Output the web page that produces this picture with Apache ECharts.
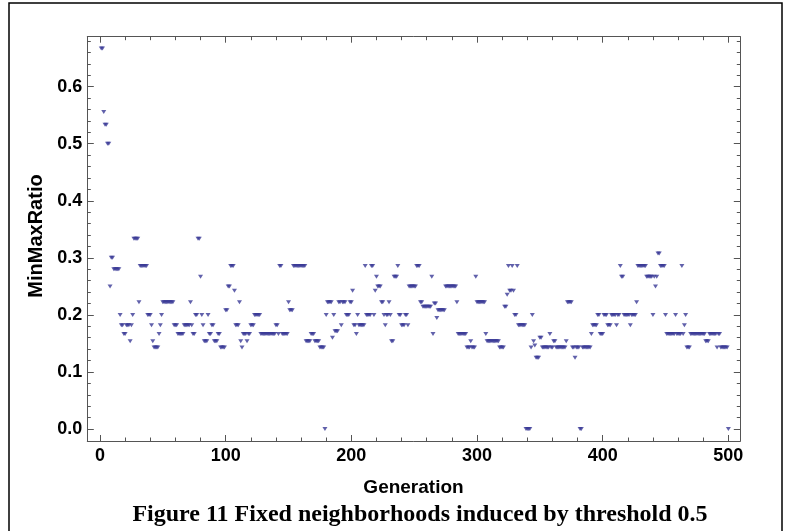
<!DOCTYPE html>
<html>
<head>
<meta charset="utf-8">
<script src="https://cdn.jsdelivr.net/npm/echarts@6/dist/echarts.min.js"></script>
<style>html,body{margin:0;padding:0;background:#fff;}#c{width:791px;height:531px;}</style>
</head>
<body>
<div id="c"></div>
<script>
// MinMaxRatio per generation (generations 1..500)
const minMaxRatio = [
  0.6667,0.6667,0.5556,0.5333,0.5333,0.5,0.5,0.25,0.3,0.3,
  0.28,0.28,0.28,0.28,0.28,0.2,0.1818,0.1818,0.1667,0.1667,
  0.1818,0.1818,0.1818,0.1538,0.1818,0.2,0.3333,0.3333,0.3333,0.3333,
  0.2222,0.2857,0.2857,0.2857,0.2857,0.2857,0.2857,0.2,0.2,0.2,
  0.1818,0.1538,0.1429,0.1429,0.1429,0.1429,0.1667,0.1818,0.2,0.2222,
  0.2222,0.2222,0.2222,0.2222,0.2222,0.2222,0.2222,0.2222,0.1818,0.1818,
  0.1818,0.1667,0.1667,0.1667,0.1667,0.1667,0.1818,0.1818,0.1818,0.1818,
  0.1818,0.2222,0.1818,0.1667,0.1667,0.2,0.2,0.3333,0.3333,0.2667,
  0.2,0.1818,0.1538,0.1538,0.1538,0.2,0.1667,0.1667,0.1818,0.1818,
  0.1538,0.1538,0.1538,0.1667,0.1667,0.1429,0.1429,0.1429,0.1429,0.2083,
  0.2083,0.25,0.25,0.2857,0.2857,0.2857,0.2424,0.1818,0.1818,0.1818,
  0.2222,0.1538,0.1429,0.1667,0.1667,0.1667,0.1538,0.1667,0.1667,0.1818,
  0.1818,0.1818,0.2,0.2,0.2,0.2,0.2,0.1667,0.1667,0.1667,
  0.1667,0.1667,0.1667,0.1667,0.1667,0.1667,0.1667,0.1667,0.1667,0.1818,
  0.1818,0.1667,0.2857,0.2857,0.1667,0.1667,0.1667,0.1667,0.1667,0.2222,
  0.2083,0.2083,0.2083,0.2857,0.2857,0.2857,0.2857,0.2857,0.2857,0.2857,
  0.2857,0.2857,0.2857,0.1538,0.1538,0.1538,0.1538,0.1667,0.1667,0.1667,
  0.1538,0.1538,0.1538,0.1538,0.1429,0.1429,0.1429,0.1429,0,0.2,
  0.2222,0.2222,0.2222,0.2222,0.16,0.2,0.1714,0.1714,0.1714,0.2222,
  0.2222,0.1818,0.2222,0.2222,0.2222,0.2,0.2,0.2,0.2222,0.2222,
  0.2424,0.1818,0.1818,0.1667,0.2,0.1818,0.1818,0.1818,0.1818,0.1818,
  0.2857,0.2,0.2,0.2,0.2,0.2857,0.2857,0.2,0.2424,0.2667,
  0.25,0.25,0.25,0.2222,0.2222,0.2,0.1818,0.2,0.2,0.2222,
  0.2,0.1538,0.1538,0.2667,0.2667,0.2667,0.2857,0.2,0.2,0.1818,
  0.1818,0.1818,0.2,0.2,0.1818,0.25,0.25,0.25,0.25,0.25,
  0.25,0.2857,0.2857,0.2857,0.2222,0.2222,0.2143,0.2143,0.2143,0.2143,
  0.2143,0.2143,0.2143,0.2667,0.1667,0.22,0.22,0.1944,0.2083,0.2083,
  0.2083,0.2083,0.2083,0.2083,0.25,0.25,0.25,0.25,0.25,0.25,
  0.25,0.25,0.25,0.2222,0.1667,0.1667,0.1667,0.1667,0.1667,0.1667,
  0.1667,0.1429,0.1429,0.1429,0.1538,0.1429,0.1429,0.1429,0.2667,0.2222,
  0.2222,0.2222,0.2222,0.2222,0.2222,0.2222,0.1667,0.1538,0.1538,0.1538,
  0.1538,0.1538,0.1538,0.1538,0.1538,0.1538,0.1538,0.1429,0.1429,0.1429,
  0.1429,0.2143,0.2143,0.2353,0.2857,0.2424,0.2424,0.2857,0.2424,0.2,
  0.2,0.2857,0.1818,0.1818,0.1818,0.1818,0.1818,0.1818,0,0,
  0,0,0.1429,0.2,0.1538,0.1463,0.125,0.125,0.125,0.16,
  0.16,0.1429,0.1429,0.1429,0.1429,0.1429,0.1429,0.1667,0.1429,0.1429,
  0.1538,0.1538,0.1429,0.1429,0.1429,0.1429,0.1429,0.1429,0.1429,0.1429,
  0.1538,0.2222,0.2222,0.2222,0.2222,0.1429,0.1429,0.125,0.1429,0.1429,
  0.1429,0,0,0.1429,0.1429,0.1429,0.1429,0.1429,0.1429,0.1429,
  0.1667,0.1818,0.1818,0.1818,0.1818,0.2,0.2,0.1667,0.1667,0.1667,
  0.2,0.2,0.2,0.1818,0.1818,0.1818,0.2,0.2,0.2,0.2,
  0.1818,0.2,0.2,0.2857,0.2667,0.2667,0.2,0.2,0.2,0.2,
  0.2,0.1818,0.2,0.2,0.2,0.2,0.2222,0.2857,0.2857,0.2857,
  0.2857,0.2857,0.2857,0.2857,0.2667,0.2667,0.2667,0.2667,0.2667,0.2,
  0.2667,0.25,0.2667,0.3077,0.3077,0.2857,0.2857,0.2857,0.2857,0.2,
  0.1667,0.1667,0.1667,0.1667,0.1667,0.1667,0.1667,0.2,0.1667,0.1667,
  0.1667,0.1667,0.2857,0.1667,0.1818,0.2,0.1429,0.1429,0.1429,0.1667,
  0.1667,0.1667,0.1667,0.1667,0.1667,0.1667,0.1667,0.1667,0.1667,0.1667,
  0.1667,0.1538,0.1538,0.1538,0.1667,0.1667,0.1667,0.1667,0.1667,0.1667,
  0.1429,0.1667,0.1667,0.1429,0.1429,0.1429,0.1429,0.1429,0.1429,0
];
const firstGeneration = 1;

// tick positions
const xMajorTicks = [0, 100, 200, 300, 400, 500];
const xMinorTicks = [20,40,60,80,120,140,160,180,220,240,260,280,320,340,360,380,420,440,460,480];
const yMajorTicks = [0, 0.1, 0.2, 0.3, 0.4, 0.5, 0.6];
const yMinorTicks = [0.02,0.04,0.06,0.08,0.12,0.14,0.16,0.18,0.22,0.24,0.26,0.28,0.32,0.34,0.36,0.38,0.42,0.44,0.46,0.48,0.52,0.54,0.56,0.58,0.62,0.64,0.66,0.68];

const xTitle = 'Generation';
const yTitle = 'MinMaxRatio';
const caption = 'Figure 11 Fixed neighborhoods induced by threshold 0.5';

const points = minMaxRatio.map((v, i) => [firstGeneration + i, v]);

const X_MIN = -10.1, X_MAX = 509.5, Y_MIN = -0.021, Y_MAX = 0.6876;
const frameColor = '#555';
const labelFont = { color: '#000', fontFamily: 'Liberation Sans', fontWeight: 'bold', fontSize: 18 };

function xAx(pos, ticks, len, showLine, showLabel) {
  return {
    type: 'value', position: pos, min: X_MIN, max: X_MAX,
    axisLine: { show: showLine, onZero: false, lineStyle: { color: frameColor, width: 1 } },
    axisTick: { show: true, inside: true, length: len, customValues: ticks, lineStyle: { color: frameColor, width: 1 } },
    axisLabel: showLabel ? Object.assign({ show: true, margin: 6, customValues: ticks }, labelFont) : { show: false },
    splitLine: { show: false }
  };
}
function yAx(pos, ticks, len, showLine, showLabel) {
  return {
    type: 'value', position: pos, min: Y_MIN, max: Y_MAX,
    axisLine: { show: showLine, onZero: false, lineStyle: { color: frameColor, width: 1 } },
    axisTick: { show: true, inside: true, length: len, customValues: ticks, lineStyle: { color: frameColor, width: 1 } },
    axisLabel: showLabel ? Object.assign({ show: true, margin: 5, customValues: ticks, formatter: v => v.toFixed(1) }, labelFont) : { show: false },
    splitLine: { show: false }
  };
}

const chart = echarts.init(document.getElementById('c'), null, { renderer: 'canvas' });
chart.setOption({
  animation: false,
  backgroundColor: '#fff',
  grid: { left: 87.3, right: 50.7, top: 36.7, bottom: 90, containLabel: false },
  xAxis: [
    xAx('bottom', xMajorTicks, 6, true, true),
    xAx('bottom', xMinorTicks, 3.5, false, false),
    xAx('top', xMajorTicks, 6, true, false),
    xAx('top', xMinorTicks, 3.5, false, false)
  ],
  yAxis: [
    yAx('left', yMajorTicks, 6.5, true, true),
    yAx('left', yMinorTicks, 3.5, false, false),
    yAx('right', yMajorTicks, 6.5, true, false),
    yAx('right', yMinorTicks, 3.5, false, false)
  ],
  series: [{
    type: 'scatter',
    xAxisIndex: 0, yAxisIndex: 0,
    data: points,
    symbol: 'path://M0,0 L10,0 L5,8 Z',
    symbolSize: [5, 4],
    itemStyle: { color: '#3a3996' },
    silent: true
  }],
  graphic: [
    { type: 'rect', shape: { x: 9, y: 3, width: 773, height: 545 }, style: { fill: null, stroke: '#000', lineWidth: 1.5 }, silent: true },
    { type: 'text', x: 36, y: 236, rotation: Math.PI / 2,
      style: { text: yTitle, fill: '#000', font: 'bold 20px "Liberation Sans"', textAlign: 'center', textVerticalAlign: 'middle' } },
    { type: 'text', x: 413.5, y: 488,
      style: { text: xTitle, fill: '#000', font: 'bold 19px "Liberation Sans"', textAlign: 'center', textVerticalAlign: 'middle' } },
    { type: 'text', x: 420, y: 515,
      style: { text: caption, fill: '#000', font: 'bold 24px "Liberation Serif"', textAlign: 'center', textVerticalAlign: 'middle' } }
  ]
});
</script>
</body>
</html>
